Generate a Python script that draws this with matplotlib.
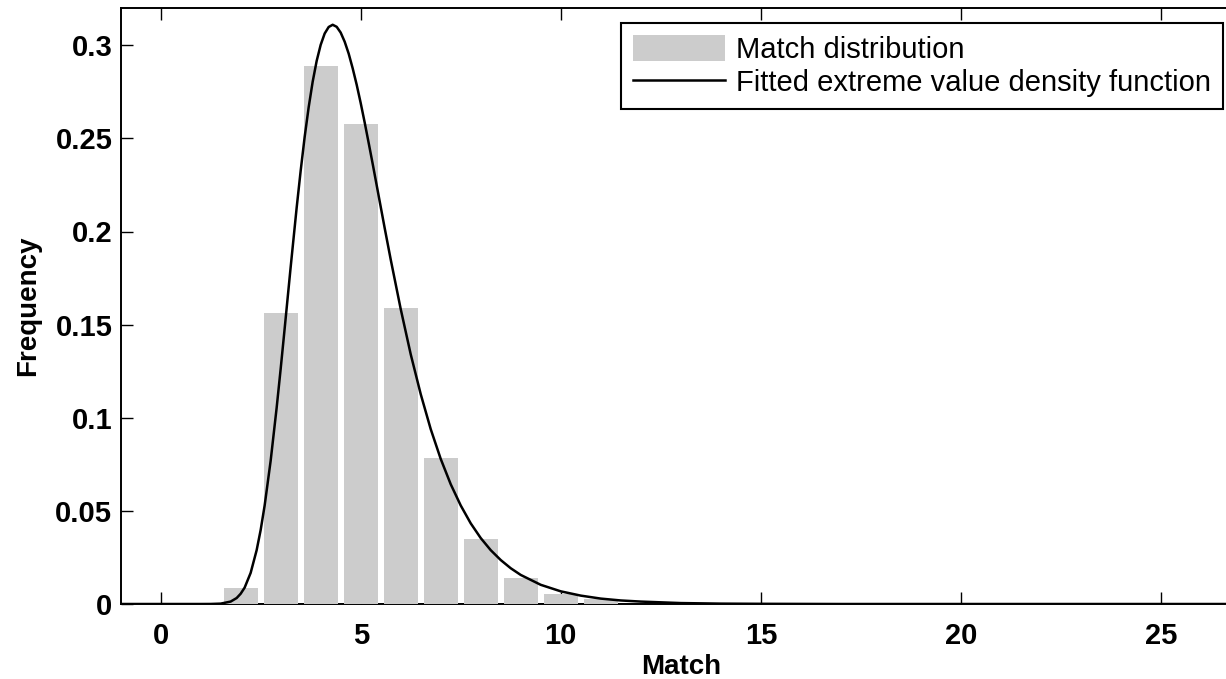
import matplotlib
matplotlib.use("Agg")
import matplotlib.pyplot as plt

# histogram of matches (bar centres and relative frequency)
bar_x = [2, 3, 4, 5, 6, 7, 8, 9, 10, 11]
bar_freq = [0.0086, 0.156, 0.2886, 0.2575, 0.159, 0.0783, 0.0348, 0.0138, 0.0052, 0.0027]

# fitted extreme value density
curve_x = [-1.0, 0.0, 1.0, 1.25, 1.5, 1.75, 1.9, 2.0, 2.1, 2.25, 2.4, 2.5, 2.6, 2.75,
           2.9, 3.0, 3.1, 3.25, 3.4, 3.5, 3.6, 3.7, 3.8, 3.9, 4.0, 4.1, 4.2, 4.3,
           4.4, 4.5, 4.6, 4.7, 4.8, 4.9, 5.0, 5.1, 5.2, 5.3, 5.4, 5.5, 5.6, 5.75,
           6.0, 6.25, 6.5, 6.75, 7.0, 7.25, 7.5, 7.75, 8.0, 8.25, 8.5, 8.75, 9.0,
           9.5, 10.0, 10.5, 11.0, 11.5, 12.0, 13.0, 14.0, 15.0, 17.0, 20.0, 27.0]
curve_y = [0.0, 0.0, 0.0, 0.00002, 0.0002, 0.0013, 0.0032, 0.0055, 0.0088, 0.0167,
           0.0289, 0.0397, 0.0529, 0.0769, 0.1054, 0.1262, 0.1479, 0.1809, 0.2128,
           0.2326, 0.2508, 0.2667, 0.2804, 0.2916, 0.3002, 0.3063, 0.3098, 0.3110,
           0.3099, 0.3068, 0.3019, 0.2955, 0.2876, 0.2788, 0.2690, 0.2585, 0.2475,
           0.2363, 0.2248, 0.2133, 0.2018, 0.1850, 0.1584, 0.1341, 0.1127, 0.0939,
           0.0779, 0.0643, 0.0529, 0.0433, 0.0354, 0.0289, 0.0236, 0.0192, 0.0156,
           0.0103, 0.0068, 0.0045, 0.0029, 0.0019, 0.0013, 0.0005, 0.0002, 0.0001,
           0.0, 0.0, 0.0]

x_ticks = [0, 5, 10, 15, 20, 25]
y_ticks = [0, 0.05, 0.1, 0.15, 0.2, 0.25, 0.3]
y_ticklabels = ['0', '0.05', '0.1', '0.15', '0.2', '0.25', '0.3']

plt.rcParams['font.family'] = ['Liberation Sans', 'DejaVu Sans']

fig = plt.figure(figsize=(12.26, 6.79), dpi=100)
ax = fig.add_axes([120.6 / 1226, 1 - 604 / 679, (1241 - 120.6) / 1226, (604 - 8) / 679])

bars = ax.bar(bar_x, bar_freq, width=0.85, color='#cccccc', linewidth=0, zorder=3)
line, = ax.plot(curve_x, curve_y, color='black', linewidth=1.8, zorder=4)

ax.set_xlim(-1, 27)
ax.set_ylim(0, 0.32)
ax.set_xticks(x_ticks)
ax.set_yticks(y_ticks)
ax.set_yticklabels(y_ticklabels)

ax.tick_params(direction='in', length=8.5, width=1.0, top=True, right=False,
               labelsize=21, pad=6)
ax.tick_params(axis='x', pad=13)
for lab in ax.get_xticklabels() + ax.get_yticklabels():
    lab.set_fontweight('bold')

for s in ['left', 'bottom', 'top']:
    ax.spines[s].set_linewidth(1.4)
ax.spines['right'].set_visible(False)

ax.set_xlabel('Match', fontsize=20, fontweight='bold', labelpad=3)
ax.set_ylabel('Frequency', fontsize=20, fontweight='bold', labelpad=10)

leg = ax.legend([bars, line], ['Match distribution', 'Fitted extreme value density function'],
                loc='upper right', bbox_to_anchor=(0.984, 0.975), borderaxespad=0,
                fontsize=21, fancybox=False, framealpha=1, edgecolor='black',
                handlelength=3.15, handleheight=1.0, handletextpad=0.4,
                labelspacing=0.15, borderpad=0.4)
leg.get_frame().set_linewidth(1.5)

fig.savefig('out.png', dpi=100)
